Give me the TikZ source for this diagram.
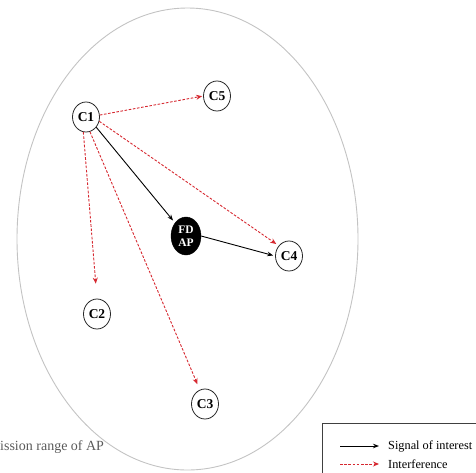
\documentclass[tikz,border=0pt]{standalone}
\usepackage{fontspec}
\setmainfont{Liberation Serif}
\usetikzlibrary{shapes.geometric,arrows.meta}
\definecolor{ired}{RGB}{214,40,48}
\definecolor{rangegray}{RGB}{195,195,195}
\definecolor{txtgray}{RGB}{90,90,90}
\tikzset{
  client/.style={ellipse,draw=black!85,line width=0.8pt,minimum width=27pt,minimum height=30pt,inner sep=0pt,font=\fontsize{13.5}{14}\selectfont\bfseries},
  apnode/.style={ellipse,fill=black,draw=black,minimum width=30pt,minimum height=38pt,inner sep=0pt,text=white,align=center,font=\fontsize{11.5}{13}\selectfont\bfseries},
  sig/.style={line width=0.9pt,black,-{Stealth[length=6pt,width=4.5pt]}},
  intf/.style={line width=0.9pt,ired,dash pattern=on 2.6pt off 1.6pt,-{Stealth[length=6pt,width=5pt]}},
  legtext/.style={anchor=west,font=\fontsize{12.3}{13}\selectfont,inner sep=0pt}
}
\begin{document}
\begin{tikzpicture}[x=1pt,y=-1pt]
\useasboundingbox (0,0) rectangle (476,472);
\clip (0,0) rectangle (476,472);
% transmission range
\draw[rangegray,line width=0.9pt] (187.5,239) ellipse[x radius=170.5,y radius=231];
\node[anchor=west,inner sep=0pt,text=txtgray,font=\fontsize{14}{14}\selectfont] (rng) at (0,447) {ission range of AP};
% nodes
\node[client] (c1) at (86,117) {C1};
\node[client] (c5) at (217,96) {C5};
\node[apnode] (ap) at (186,236) {FD\\AP};
\node[client] (c4) at (289,256) {C4};
\node[client] (c2) at (97,314) {C2};
\node[client] (c3) at (205,404) {C3};
% connectors
\draw[intf,shorten >=1pt] (c1.8) -- (c5.west);
\draw[intf,shorten >=3pt] (c1.-18) -- (c4.135);
\draw[sig,shorten >=3pt] (c1.-45) -- (ap.130);
\draw[intf,shorten >=15pt] (c1.-100) -- (c2.north);
\draw[intf,shorten >=6pt] (c1.-75) -- (c3.110);
\draw[sig,shorten >=2pt] (ap.east) -- (c4.west);
% legend
\draw[line width=0.8pt,black!75] (322,423) rectangle (490,490);
\coordinate (l1a) at (340,446);
\coordinate (l1b) at (379,446);
\coordinate (l2a) at (340,464);
\coordinate (l2b) at (379,464);
\draw[sig] (l1a) -- (l1b);
\draw[intf] (l2a) -- (l2b);
\node[legtext] (lt1) at (388,446) {Signal of interest};
\node[legtext] (lt2) at (388,464) {Interference};
\end{tikzpicture}
\end{document}
